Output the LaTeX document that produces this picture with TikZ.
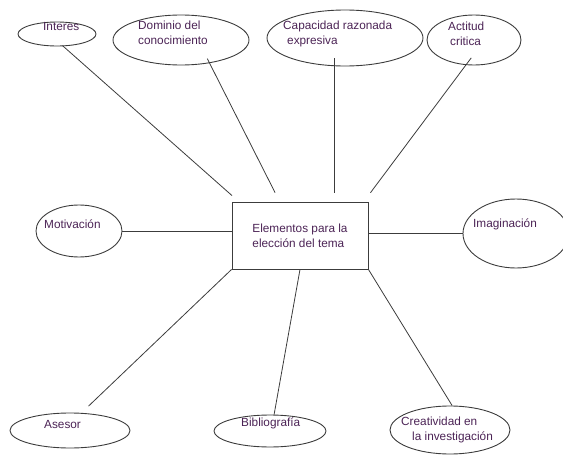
\documentclass[tikz,border=0pt]{standalone}
\usepackage{fontspec}
\setmainfont{Liberation Sans}
\usetikzlibrary{shapes.geometric}
\definecolor{txtcol}{RGB}{75,35,85}
\definecolor{linecol}{RGB}{60,60,60}
\begin{document}
\begin{tikzpicture}[x=1pt, y=-1pt,
        bubble/.style={draw=linecol, line width=0.9pt, ellipse, inner sep=0pt},
        txt/.style={anchor=west, inner sep=0pt, text=txtcol, align=left, font=\fontsize{11.8}{15}\selectfont},
        link/.style={draw=linecol, line width=0.8pt}]
    \useasboundingbox (0,0) rectangle (563,455);
    % centro
    \node[draw=linecol, line width=0.9pt, minimum width=136pt, minimum height=67pt, inner sep=0pt,
        text=txtcol, align=left, font=\fontsize{11.8}{15}\selectfont] (box) at (300,235.5) {Elementos para la\\elección del tema};
    % elipses
    \node[bubble, minimum width=78pt, minimum height=24pt] (int) at (57,34) {};
    \node[bubble, minimum width=136pt, minimum height=50pt] (dom) at (181,40) {};
    \node[bubble, minimum width=156pt, minimum height=56pt] (cap) at (345,38) {};
    \node[bubble, minimum width=94pt, minimum height=50pt] (act) at (474,40) {};
    \node[bubble, minimum width=86pt, minimum height=52pt] (mot) at (79,231) {};
    \node[bubble, minimum width=106pt, minimum height=69pt] (ima) at (516,233.5) {};
    \node[bubble, minimum width=120pt, minimum height=35pt] (ase) at (70,430.5) {};
    \node[bubble, minimum width=112pt, minimum height=32pt] (bib) at (270,431) {};
    \node[bubble, minimum width=120pt, minimum height=48pt] (cre) at (450,430) {};
    % textos
    \node[txt] (intT) at (43,26) {Interes};
    \node[txt] (domT) at (138,33) {Dominio del\\conocimiento};
    \node[txt] (capT) at (283,34) {Capacidad razonada\\\hspace*{4pt}expresiva};
    \node[txt] (actT) at (448,34) {Actitud\\\hspace*{2pt}critica};
    \node[txt] (motT) at (44,224) {Motivación};
    \node[txt] (imaT) at (473,224) {Imaginación};
    \node[txt] (aseT) at (44,424) {Asesor};
    \node[txt] (bibT) at (241,423) {Bibliografía};
    \node[txt] (creT) at (401,430) {Creatividad en\\\hspace*{11pt}la investigación};
    % lineas
    \draw[link, shorten <=-1pt, shorten >=9pt] (int.-63) -- (box.151);
    \draw[link, shorten <=-5pt, shorten >=10pt] (dom.-39) -- (box.121.5);
    \draw[link, shorten <=-8pt, shorten >=9pt] (cap.south -| box.45) -- (box.45);
    \draw[link, shorten <=-9pt, shorten >=11pt] (act.-108.6) -- (box.28.8);
    \draw[link] (mot.east) -- (mot.east -| box.west);
    \draw[link] (ima.west) -- (ima.west -| box.east);
    \draw[link, shorten >=9.8pt] (box.south west) -- (ase.57.8);
    \draw[link] (box.south) -- (bib.76);
    \draw[link] (box.south east) -- (cre.85);
\end{tikzpicture}
\end{document}
